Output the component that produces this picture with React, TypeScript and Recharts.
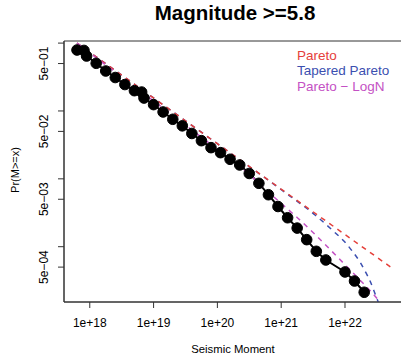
import React from "react";
import { ComposedChart, Line, XAxis, YAxis, ReferenceArea } from "recharts";

// Observed catalogue points: seismic moment (N·m) and Pr(M>=x)
const obsMoment = [
  6.31e17, 8.11e17, 8.91e17, 1.26e18, 1.78e18, 2.51e18, 3.55e18, 5.01e18, 6.5e18,
  7.08e18, 1.0e19, 1.41e19, 2.0e19, 2.82e19, 3.98e19, 5.62e19, 7.94e19, 1.12e20,
  1.58e20, 2.24e20, 3.16e20, 4.47e20, 6.31e20, 8.91e20, 1.26e21, 1.78e21, 2.51e21,
  3.55e21, 5.01e21, 1.0e22, 1.41e22, 2.0e22,
];
const obsProb = [
  0.791, 0.78, 0.645, 0.504, 0.388, 0.311, 0.245, 0.199, 0.19,
  0.155, 0.124, 0.0966, 0.0754, 0.0604, 0.0466, 0.0365, 0.0288, 0.0243,
  0.0194, 0.016, 0.012, 0.00859, 0.00583, 0.00391, 0.00267, 0.00188, 0.00127,
  0.000855, 0.000637, 0.000424, 0.000312, 0.000213,
];

// Pareto fit (straight line in log-log)
const paretoMoment = [6.31e17, 9.86e19, 5.26e22];
const paretoProb = [1.0, 0.0332, 4.97e-4];

// Tapered Pareto fit
const taperedMoment = [
  6.31e17, 9.86e19, 9.93e20, 3.39e21, 6.56e21, 1.06e22, 1.35e22, 1.72e22,
  2.06e22, 2.47e22, 2.85e22, 3.29e22, 3.66e22,
];
const taperedProb = [
  1.0, 0.0332, 0.00696, 0.00293, 0.0017, 0.001095, 8.21e-4, 5.94e-4,
  4.38e-4, 3.12e-4, 2.22e-4, 1.56e-4, 1.25e-4,
];

// Pareto - LogN fit
const lognMoment = [
  6.31e17, 2.97e18, 1.81e19, 9.86e19, 3.24e20, 5.57e20, 9.58e20, 1.83e21,
  3.39e21, 7.41e21, 1.6e22, 2.3e22, 3.18e22, 3.8e22,
];
const lognProb = [
  1.0, 0.33, 0.0923, 0.0273, 0.01135, 0.00713, 0.00449, 0.00263,
  0.00152, 7.24e-4, 3.45e-4, 2.42e-4, 1.73e-4, 1.43e-4,
];

const xTicks = [1e18, 1e19, 1e20, 1e21, 1e22];
const xTickLabels = ["1e+18", "1e+19", "1e+20", "1e+21", "1e+22"];
const yTicks = [1, 0.5, 0.1, 0.05, 0.01, 0.005, 0.001, 0.0005];
const yTickLabels = ["", "5e\u221201", "", "5e\u221202", "", "5e\u221203", "", "5e\u221204"];

const legendLabels = ["Pareto", "Tapered Pareto", "Pareto \u2212 LogN"];
const RED = "#E5403A";
const BLUE = "#3B4FB0";
const MAGENTA = "#C451C4";
const legendColors = [RED, BLUE, MAGENTA];

const X_MIN = 3.945e17;
const X_MAX = 9.04e22;
const Y_MIN = 1.531e-4;
const Y_MAX = 1.074;

const FONT = "'Liberation Sans', Arial, Helvetica, sans-serif";

const zip = (xs: number[], ys: number[]) => xs.map((x, i) => ({ x, y: ys[i] }));
const obsData = zip(obsMoment, obsProb);
const paretoData = zip(paretoMoment, paretoProb);
const taperedData = zip(taperedMoment, taperedProb);
const lognData = zip(lognMoment, lognProb);

const XTick = (props: any) => {
  const { x, payload } = props;
  const i = xTicks.indexOf(payload.value);
  return (
    <text x={x} y={326.5} textAnchor="middle" fontSize={12} fontFamily={FONT} fill="#000">
      {i >= 0 ? xTickLabels[i] : ""}
    </text>
  );
};

const YTick = (props: any) => {
  const { y, payload } = props;
  const i = yTicks.indexOf(payload.value);
  const label = i >= 0 ? yTickLabels[i] : "";
  if (!label) return <g />;
  return (
    <text
      x={48}
      y={y}
      transform={`rotate(-90, 48, ${y})`}
      textAnchor="middle"
      fontSize={12}
      fontFamily={FONT}
      fill="#000"
    >
      {label}
    </text>
  );
};

const dashed = {
  type: "monotone" as const,
  strokeWidth: 1.5,
  strokeDasharray: "5 5",
  dot: false,
  isAnimationActive: false,
};

export default function App() {
  return (
    <div
      style={{
        position: "fixed",
        left: 0,
        top: 0,
        width: 401,
        height: 357,
        overflow: "hidden",
        background: "#fff",
      }}
    >
      <div style={{ position: "absolute", left: 0, top: 0 }}>
        <ComposedChart width={420} height={357} margin={{ top: 41, right: 14, bottom: 0, left: 0 }}>
          <XAxis
            dataKey="x"
            type="number"
            scale="log"
            domain={[X_MIN, X_MAX]}
            allowDataOverflow
            ticks={xTicks}
            interval={0}
            tick={<XTick />}
            tickSize={6}
            tickLine={{ stroke: "#333" }}
            axisLine={{ stroke: "#333" }}
            height={55}
          />
          <YAxis
            dataKey="y"
            type="number"
            scale="log"
            domain={[Y_MIN, Y_MAX]}
            allowDataOverflow
            ticks={yTicks}
            interval={0}
            tick={<YTick />}
            tickSize={6}
            tickLine={{ stroke: "#333" }}
            axisLine={{ stroke: "#333" }}
            width={64}
          />
          <ReferenceArea
            x1={X_MIN}
            x2={X_MAX}
            y1={Y_MIN}
            y2={Y_MAX}
            fill="none"
            stroke="#333"
            strokeWidth={1}
            fillOpacity={0}
          />
          <Line
            data={obsData}
            dataKey="y"
            type="linear"
            stroke="#000"
            strokeWidth={2}
            dot={{ r: 5.3, fill: "#000", stroke: "#000", strokeWidth: 1 }}
            isAnimationActive={false}
          />
          <Line data={taperedData} dataKey="y" stroke={BLUE} {...dashed} />
          <Line data={paretoData} dataKey="y" stroke={RED} {...dashed} type="linear" />
          <Line data={lognData} dataKey="y" stroke={MAGENTA} {...dashed} />
        </ComposedChart>
      </div>
      <svg
        width={401}
        height={357}
        style={{ position: "absolute", left: 0, top: 0, pointerEvents: "none" }}
      >
        <text x={235} y={20} textAnchor="middle" fontSize={20.5} fontWeight="bold" fontFamily={FONT} fill="#000">
          Magnitude &gt;=5.8
        </text>
        <text x={233} y={353} textAnchor="middle" fontSize={11.3} fontFamily={FONT} fill="#000">
          Seismic Moment
        </text>
        <text
          x={19}
          y={170}
          transform="rotate(-90, 19, 170)"
          textAnchor="middle"
          fontSize={11}
          fontFamily={FONT}
          fill="#000"
        >
          Pr(M&gt;=x)
        </text>
        {legendLabels.map((t, i) => (
          <text key={t} x={297} y={59.5 + i * 15.5} fontSize={13.5} fontFamily={FONT} fill={legendColors[i]}>
            {t}
          </text>
        ))}
      </svg>
    </div>
  );
}
